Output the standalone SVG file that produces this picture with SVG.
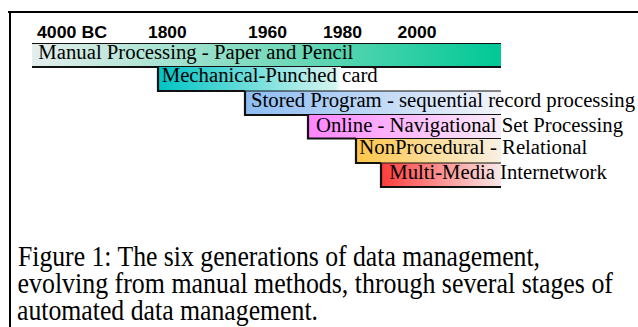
<svg xmlns="http://www.w3.org/2000/svg" width="638" height="327" viewBox="0 0 638 327">
<defs>
<linearGradient id="g1" x1="0" y1="0" x2="1" y2="0"><stop offset="0" stop-color="#e4eeec"/><stop offset="0.55" stop-color="#6fd8b8"/><stop offset="1" stop-color="#00c896"/></linearGradient>
<linearGradient id="g2" gradientUnits="userSpaceOnUse" x1="158" y1="0" x2="341" y2="0"><stop offset="0" stop-color="#00c4c4"/><stop offset="0.97" stop-color="#d4f4f0"/><stop offset="1" stop-color="#ffffff"/></linearGradient>
<linearGradient id="g3" x1="0" y1="0" x2="1" y2="0"><stop offset="0" stop-color="#8cbcf2"/><stop offset="1" stop-color="#f2f4fa"/></linearGradient>
<linearGradient id="g4" x1="0" y1="0" x2="1" y2="0"><stop offset="0" stop-color="#ff84ff"/><stop offset="1" stop-color="#f8eef8"/></linearGradient>
<linearGradient id="g5" x1="0" y1="0" x2="1" y2="0"><stop offset="0" stop-color="#ffc648"/><stop offset="1" stop-color="#f8f0e2"/></linearGradient>
<linearGradient id="g6" x1="0" y1="0" x2="1" y2="0"><stop offset="0" stop-color="#ff3c3c"/><stop offset="1" stop-color="#f8e8e8"/></linearGradient>
</defs>
<style>
.yr{font-family:"Liberation Sans",Arial,sans-serif;font-weight:bold;font-size:16px;fill:#000}
.bt{font-family:"Liberation Serif","Times New Roman",serif;font-size:20.5px;fill:#000}
.cap{font-family:"Liberation Serif","Times New Roman",serif;font-size:26px;fill:#000}
.top{stroke:#111;stroke-width:1.2;fill:none}
.edge{stroke:#111;stroke-width:2.2;fill:none}
.frame{stroke:#000;stroke-width:2;fill:none}
</style>
<g id="frame">
<path class="frame" d="M8 12 H638 M10 12 V327"/>
</g>
<g id="years">
<text class="yr" x="37" y="38" textLength="70" lengthAdjust="spacingAndGlyphs">4000 BC</text>
<text class="yr" x="148" y="38" textLength="38.5" lengthAdjust="spacingAndGlyphs">1800</text>
<text class="yr" x="248" y="38" textLength="39" lengthAdjust="spacingAndGlyphs">1960</text>
<text class="yr" x="323" y="38" textLength="39" lengthAdjust="spacingAndGlyphs">1980</text>
<text class="yr" x="397.5" y="38" textLength="39" lengthAdjust="spacingAndGlyphs">2000</text>
</g>
<g id="bar1">
<rect x="32" y="43.5" width="469" height="23.5" fill="url(#g1)"/>
<path class="top" d="M32 43.5 H501"/>
<path class="edge" d="M32 67 H501"/>
<text class="bt" x="38.3" y="58.5" textLength="315" lengthAdjust="spacingAndGlyphs">Manual Processing - Paper and Pencil</text>
</g>
<g id="bar2">
<rect x="158" y="67" width="183" height="24" fill="url(#g2)"/>
<path class="edge" d="M158 67 V91 H245"/>
<text class="bt" x="161.7" y="82.3" textLength="216" lengthAdjust="spacingAndGlyphs">Mechanical-Punched card</text>
</g>
<g id="bar3">
<rect x="245" y="91" width="256" height="24" fill="url(#g3)"/>
<path class="top" d="M245 91 H501"/>
<path class="edge" d="M245 91 V115 H501"/>
<text class="bt" x="251" y="106.7" textLength="384" lengthAdjust="spacingAndGlyphs">Stored Program - sequential record processing</text>
</g>
<g id="bar4">
<rect x="308" y="115" width="193" height="23.5" fill="url(#g4)"/>
<path class="edge" d="M308 115 V138.5 H356"/>
<text class="bt" x="316" y="131.7" textLength="307" lengthAdjust="spacingAndGlyphs">Online - Navigational Set Processing</text>
</g>
<g id="bar5">
<rect x="356" y="138.5" width="145" height="24.5" fill="url(#g5)"/>
<path class="edge" d="M356 138.5 V163 H381"/>
<path class="top" d="M356 138.5 H501"/>
<text class="bt" x="359.3" y="154.3" textLength="228" lengthAdjust="spacingAndGlyphs">NonProcedural - Relational</text>
</g>
<g id="bar6">
<rect x="381" y="163" width="120" height="24" fill="url(#g6)"/>
<path class="top" d="M381 163 H501"/>
<path class="edge" d="M381 163 V187 H501"/>
<text class="bt" x="389.3" y="179.3" textLength="217.5" lengthAdjust="spacingAndGlyphs">Multi-Media Internetwork</text>
</g>
<g id="connectors"/>
<g id="caption" transform="scale(1,1.1)">
<text class="cap" x="18" y="241.8" textLength="522" lengthAdjust="spacingAndGlyphs">Figure 1: The six generations of data management,</text>
<text class="cap" x="17.5" y="266.4" textLength="595.5" lengthAdjust="spacingAndGlyphs">evolving from manual methods, through several stages of</text>
<text class="cap" x="17" y="290.9" textLength="301" lengthAdjust="spacingAndGlyphs">automated data management.</text>
</g>
</svg>
